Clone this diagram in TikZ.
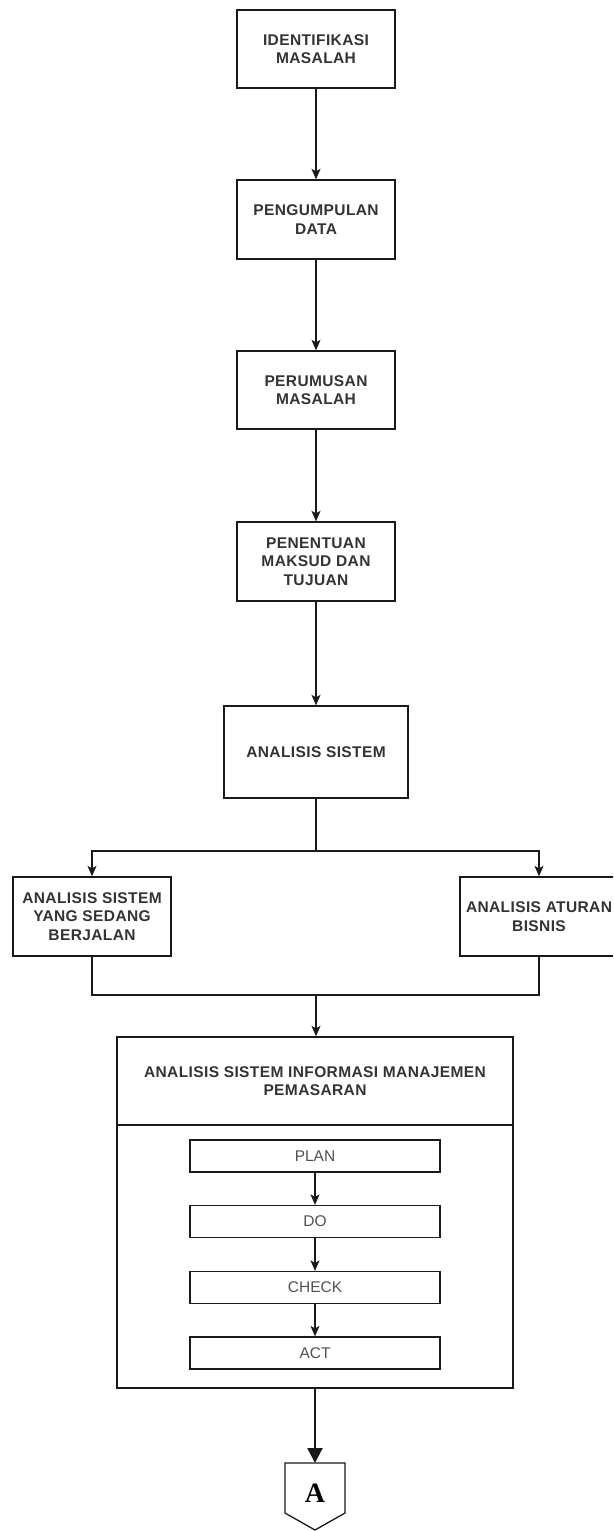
\documentclass[tikz,border=0pt]{standalone}
\usepackage{fontspec}
\setmainfont{Liberation Sans}
\newfontfamily\serifA{Liberation Serif}
\usetikzlibrary{arrows.meta}
\definecolor{txt}{HTML}{333333}
\definecolor{ln}{HTML}{1A1A1A}
\newcommand{\boxfont}{\bfseries\fontsize{15.5}{18.5}\selectfont\addfontfeatures{LetterSpace=2.5}}
\tikzset{
  stepbox/.style={draw=ln, line width=1.3pt, fill=white, align=center, text=txt,
    font=\boxfont, minimum width=158, minimum height=79, inner sep=2pt},
  pdca/.style={draw=ln, line width=1.2pt, fill=white, text=txt!85,
    font=\fontsize{15.5}{18}\selectfont, minimum width=250, minimum height=32, inner sep=0pt},
  conn/.style={draw=ln, line width=1.3pt},
  arr/.style={conn, -{Stealth[length=10.5pt,width=9pt,inset=2.5pt]}},
  bigarr/.style={draw=ln, line width=2.4pt, -{Triangle[length=15pt,width=15pt]}}
}
\begin{document}
\begin{tikzpicture}[x=1pt,y=-1pt]
\useasboundingbox (0,0) rectangle (613,1531);
\begin{scope}
\clip (0,0) rectangle (613,1531);
\node[stepbox, minimum height=78] (b1) at (316,49) {IDENTIFIKASI\\MASALAH};
\node[stepbox] (b2) at (316,219.5) {PENGUMPULAN\\DATA};
\node[stepbox, minimum height=78] (b3) at (316,390) {PERUMUSAN\\MASALAH};
\node[stepbox] (b4) at (316,561.5) {PENENTUAN\\MAKSUD DAN\\TUJUAN};
\node[stepbox, minimum width=184, minimum height=92] (b5) at (316,752) {ANALISIS SISTEM};
\node[stepbox] (bl) at (92,916.5) {ANALISIS SISTEM\\YANG SEDANG\\BERJALAN};
\node[stepbox] (br) at (539,916.5) {ANALISIS ATURAN\\BISNIS};

\node[draw=ln, line width=1.3pt, minimum width=396, minimum height=351, inner sep=0pt] (big) at (315,1212.5) {};
\node[align=center, text=txt, font=\boxfont] (title) at (315,1081)
  {ANALISIS SISTEM INFORMASI MANAJEMEN\\PEMASARAN};
\coordinate (divl) at (117,1125);
\coordinate (divr) at (513,1125);
\draw[conn] (divl) -- (divr);

\node[pdca] (plan) at (315,1156) {PLAN};
\node[pdca] (do) at (315,1221.5) {DO};
\node[pdca] (check) at (315,1287.5) {CHECK};
\node[pdca] (act) at (315,1353) {ACT};

\draw[arr] (b1.south) -- (b1.south |- b2.north);
\draw[arr] (b2.south) -- (b2.south |- b3.north);
\draw[arr] (b3.south) -- (b3.south |- b4.north);
\draw[arr] (b4.south) -- (b4.south |- b5.north);

\coordinate (split) at (316,851);
\draw[conn] (b5.south) -- (split);
\draw[arr] (split) -| (bl.north);
\draw[arr] (split) -| (br.north);

\coordinate (join) at (316,995);
\draw[conn] (bl.south) |- (join) -| (br.south);
\draw[arr] (join) -- (join |- big.north);

\draw[arr] (plan) -- (do);
\draw[arr] (do) -- (check);
\draw[arr] (check) -- (act);

\coordinate (atop) at (315,1463);
\draw[bigarr] (big.south) -- (atop);
\draw[draw=ln, line width=1.3pt, fill=white] (285,1463) -- (345,1463) -- (345,1513) -- (315,1530) -- (285,1513) -- cycle;
\node[font=\serifA\bfseries\fontsize{28}{30}\selectfont, text=black] (A) at (315,1493) {A};
\end{scope}
\end{tikzpicture}
\end{document}
